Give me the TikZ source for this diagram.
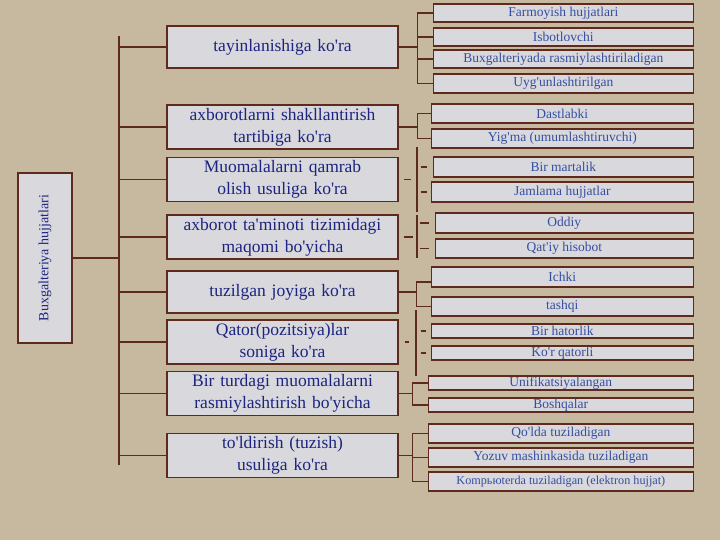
\documentclass[tikz,border=0pt]{standalone}
\usepackage{fontspec}
\setmainfont{Liberation Serif}
\usepackage{tikz}
\usetikzlibrary{arrows,shapes}
\usetikzlibrary{positioning,calc}
\definecolor{paper}{RGB}{199,185,159}
\definecolor{boxgray}{RGB}{217,217,221}
\definecolor{brownline}{RGB}{94,42,30}
\definecolor{navy}{RGB}{28,36,128}
\definecolor{leafblue}{RGB}{52,78,160}
\newcommand{\q}{\textquotesingle}
\tikzstyle{link}=[draw=brownline,line width=1.3pt]
\tikzstyle{mbox} = [rectangle, draw=brownline, line width=1.4pt, fill=boxgray, text=navy, text width=225pt, align=center, inner sep=3pt, minimum height=42pt, font=\fontsize{17.5}{22}\selectfont]
\tikzstyle{lbox} = [rectangle, draw=brownline, line width=1.3pt, fill=boxgray, text=leafblue, anchor=east, inner sep=0pt, minimum height=18pt, font=\fontsize{13.5}{14}\selectfont]
\tikzstyle{rbox} = [rectangle, draw=brownline, line width=1.4pt, fill=boxgray, text=navy, rotate=90, minimum width=170pt, minimum height=54pt, inner sep=0pt, font=\fontsize{14}{16}\selectfont]

\begin{document}
\begin{tikzpicture}[x=1pt,y=-1pt]
\fill[paper] (0,0) rectangle (720,540);
\useasboundingbox (0,0) rectangle (720,540);

% root
\node [rbox] (r) at (45,258) {Buxgalteriya hujjatlari};
\coordinate (top) at (119,36);
\coordinate (bot) at (119,465);
\draw[link] (top) -- (bot);
\draw[link] (r.south) -- (r.south -| top);

% middle column
\node [mbox] (t1) at (282.5,47) {tayinlanishiga ko\q ra};
\node [mbox] (t2) at (282.5,127) {axborotlarni shakllantirish\\tartibiga ko\q ra};
\node [mbox] (t3) at (282.5,179.5) {Muomalalarni qamrab\\olish usuliga ko\q ra};
\node [mbox] (t4) at (282.5,237) {axborot ta\q minoti tizimidagi\\maqomi bo\q yicha};
\node [mbox] (t5) at (282.5,292) {tuzilgan joyiga ko\q ra};
\node [mbox] (t6) at (282.5,342) {Qator(pozitsiya)lar\\soniga ko\q ra};
\node [mbox] (t7) at (282.5,393.5) {Bir turdagi muomalalarni\\rasmiylashtirish bo\q yicha};
\node [mbox] (t8) at (282.5,455.5) {to\q ldirish (tuzish)\\usuliga ko\q ra};
\foreach \t in {t1,t2,t3,t4,t5,t6,t7,t8}
  \draw[link] (\t.west) -- (\t.west -| top);

% leaves
\node [lbox,minimum width=260pt] (l1a) at (694,13) {Farmoyish hujjatlari};
\node [lbox,minimum width=260pt] (l1b) at (694,37) {Isbotlovchi};
\node [lbox,minimum width=260pt] (l1c) at (694,59) {Buxgalteriyada rasmiylashtiriladigan};
\node [lbox,minimum width=260pt,minimum height=19pt] (l1d) at (694,83.5) {Uyg\q unlashtirilgan};

\node [lbox,minimum width=262pt,minimum height=19pt] (l2a) at (694,113.5) {Dastlabki};
\node [lbox,minimum width=262pt,minimum height=19pt] (l2b) at (694,138.5) {Yig\q ma (umumlashtiruvchi)};

\node [lbox,minimum width=260pt,minimum height=20pt] (l3a) at (694,167) {Bir martalik};
\node [lbox,minimum width=262pt,minimum height=20pt] (l3b) at (694,192) {Jamlama hujjatlar};

\node [lbox,minimum width=258pt,minimum height=20pt] (l4a) at (694,223) {Oddiy};
\node [lbox,minimum width=258pt,minimum height=19pt] (l4b) at (694,248.5) {Qat\q iy hisobot};

\node [lbox,minimum width=262pt,minimum height=20pt] (l5a) at (694,277) {Ichki};
\node [lbox,minimum width=262pt,minimum height=19pt] (l5b) at (694,306.5) {tashqi};

\node [lbox,minimum width=262pt,minimum height=14pt] (l6a) at (694,331) {Bir hatorlik};
\node [lbox,minimum width=262pt,minimum height=14pt] (l6b) at (694,353) {Ko\q r qatorli};

\node [lbox,minimum width=265pt,minimum height=14pt] (l7a) at (694,383) {Unifikatsiyalangan};
\node [lbox,minimum width=265pt,minimum height=14pt] (l7b) at (694,405) {Boshqalar};

\node [lbox,minimum width=265pt,minimum height=19pt] (l8a) at (694,433.5) {Qo\q lda tuziladigan};
\node [lbox,minimum width=265pt,minimum height=19pt] (l8b) at (694,457.5) {Yozuv mashinkasida tuziladigan};
\node [lbox,minimum width=265pt,minimum height=19pt,font=\fontsize{12.2}{13}\selectfont] (l8c) at (694,481.5) {Kompьюterda tuziladigan (elektron hujjat)};

% brackets
\foreach \n in {l1a,l1b,l1c,l1d}
  \draw[link] (t1.east) -- ++(19,0) |- (\n.west);
\foreach \n in {l2a,l2b}
  \draw[link] (t2.east) -- ++(19,0) |- (\n.west);
\draw[link] (t5.east) -- ++(18,0) |- ([yshift=-5pt]l5a.west);
\draw[link] (t5.east) -- ++(18,0) |- (l5b.west);
\foreach \n in {l7a,l7b}
  \draw[link] (t7.east) -- ++(14,0) |- (\n.west);
\foreach \n in {l8a,l8b,l8c}
  \draw[link] (t8.east) -- ++(14,0) |- (\n.west);

% loose strokes
\coordinate (v3a) at (417,147);
\coordinate (v3b) at (417,212);
\coordinate (v4a) at (417,215);
\coordinate (v4b) at (417,258);
\coordinate (v6a) at (416,310);
\coordinate (v6b) at (416,376);
\draw[link] (v3a) -- (v3b);
\draw[link] (v4a) -- (v4b);
\draw[link] (v6a) -- (v6b);
\draw[link] ([xshift=5pt]t3.east) -- ++(7,0);
\draw[link] ([xshift=5pt]t4.east) -- ++(9,0);
\draw[link] ([xshift=6pt]t6.east) -- ++(4,0);
\draw[link] ([xshift=-12pt]l3a.west) -- ++(6,0);
\draw[link] ([xshift=-10pt]l3b.west) -- ++(6,0);
\draw[link] ([xshift=-15pt]l4a.west) -- ++(9,0);
\draw[link] ([xshift=-15pt]l4b.west) -- ++(9,0);
\draw[link] ([xshift=-10pt]l6a.west) -- ++(5,0);
\draw[link] ([xshift=-10pt]l6b.west) -- ++(5,0);
\end{tikzpicture}
\end{document}
